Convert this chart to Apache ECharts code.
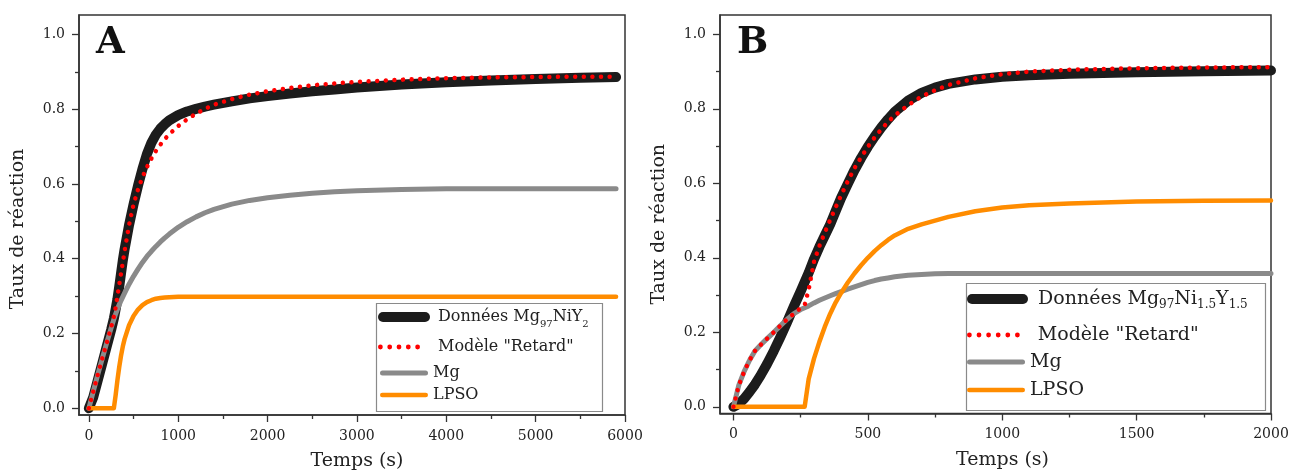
<!DOCTYPE html>
<html><head><meta charset="utf-8">
<script src="https://cdn.jsdelivr.net/npm/echarts@6/dist/echarts.min.js"></script>
<style>html,body{margin:0;padding:0;background:#fff}#c{width:1290px;height:470px}</style>
</head><body><div id="c"></div>
<script>
// ---- Panel A data (Mg97NiY2) ----
const timeA    = [0, 50, 100, 150, 200, 250, 280, 290, 300, 320, 340, 360, 380, 400, 450, 500, 550, 600, 650, 700, 750, 800, 850, 900, 1000, 1100, 1200, 1300, 1400, 1600, 1800, 2000, 2250, 2500, 2750, 3000, 3500, 4000, 4500, 5000, 5500, 5900];
const donneesA = [0, 0.03, 0.075, 0.12, 0.165, 0.21, 0.24, 0.252, 0.265, 0.292, 0.325, 0.36, 0.395, 0.425, 0.49, 0.545, 0.595, 0.64, 0.68, 0.71, 0.732, 0.748, 0.76, 0.77, 0.784, 0.794, 0.801, 0.807, 0.812, 0.821, 0.829, 0.835, 0.842, 0.848, 0.853, 0.858, 0.866, 0.872, 0.877, 0.881, 0.884, 0.886];
const modeleA  = [0, 0.045, 0.09, 0.133, 0.175, 0.217, 0.245, 0.257, 0.27, 0.30, 0.33, 0.36, 0.39, 0.42, 0.49, 0.545, 0.585, 0.618, 0.645, 0.668, 0.688, 0.705, 0.72, 0.733, 0.755, 0.773, 0.788, 0.801, 0.812, 0.827, 0.839, 0.848, 0.857, 0.864, 0.869, 0.873, 0.879, 0.883, 0.885, 0.886, 0.887, 0.887];
const mgA      = [0, 0.045, 0.09, 0.133, 0.175, 0.215, 0.238, 0.245, 0.252, 0.265, 0.277, 0.288, 0.298, 0.308, 0.332, 0.353, 0.372, 0.39, 0.406, 0.42, 0.433, 0.445, 0.456, 0.466, 0.484, 0.499, 0.512, 0.523, 0.532, 0.546, 0.556, 0.563, 0.57, 0.575, 0.579, 0.582, 0.585, 0.587, 0.587, 0.587, 0.587, 0.587];
const lpsoA    = [0, 0, 0, 0, 0, 0, 0, 0, 0.035, 0.075, 0.11, 0.14, 0.165, 0.185, 0.222, 0.247, 0.264, 0.276, 0.284, 0.289, 0.293, 0.295, 0.296, 0.297, 0.298, 0.298, 0.298, 0.298, 0.298, 0.298, 0.298, 0.298, 0.298, 0.298, 0.298, 0.298, 0.298, 0.298, 0.298, 0.298, 0.298, 0.298];

// ---- Panel B data (Mg97Ni1.5Y1.5) ----
const timeB    = [0, 20, 40, 60, 80, 100, 125, 150, 175, 200, 225, 250, 265, 280, 300, 320, 340, 360, 380, 400, 425, 450, 475, 500, 525, 550, 575, 600, 650, 700, 750, 800, 900, 1000, 1100, 1250, 1500, 1750, 2000];
const donneesB = [0, 0.008, 0.022, 0.04, 0.06, 0.083, 0.115, 0.15, 0.188, 0.228, 0.27, 0.31, 0.335, 0.36, 0.397, 0.43, 0.46, 0.49, 0.525, 0.56, 0.598, 0.635, 0.668, 0.698, 0.725, 0.75, 0.772, 0.792, 0.822, 0.843, 0.857, 0.867, 0.879, 0.886, 0.89, 0.894, 0.898, 0.901, 0.903];
const modeleB  = [0, 0.058, 0.095, 0.125, 0.15, 0.165, 0.183, 0.2, 0.218, 0.235, 0.25, 0.265, 0.273, 0.315, 0.39, 0.432, 0.468, 0.502, 0.535, 0.567, 0.605, 0.64, 0.67, 0.698, 0.723, 0.745, 0.765, 0.782, 0.81, 0.833, 0.85, 0.864, 0.882, 0.893, 0.90, 0.905, 0.909, 0.911, 0.912];
const mgB      = [0, 0.058, 0.095, 0.125, 0.15, 0.165, 0.183, 0.2, 0.218, 0.235, 0.25, 0.261, 0.266, 0.271, 0.279, 0.286, 0.292, 0.298, 0.304, 0.309, 0.316, 0.322, 0.328, 0.334, 0.339, 0.343, 0.346, 0.349, 0.353, 0.355, 0.357, 0.358, 0.358, 0.358, 0.358, 0.358, 0.358, 0.358, 0.358];
const lpsoB    = [0, 0, 0, 0, 0, 0, 0, 0, 0, 0, 0, 0, 0, 0.075, 0.13, 0.175, 0.215, 0.25, 0.28, 0.305, 0.333, 0.358, 0.38, 0.40, 0.418, 0.434, 0.448, 0.46, 0.478, 0.49, 0.50, 0.51, 0.525, 0.535, 0.541, 0.546, 0.551, 0.553, 0.554];

// ---- Axis ticks / labels ----
const yMajor = [0, 0.2, 0.4, 0.6, 0.8, 1.0];
const yMinor = [0.1, 0.3, 0.5, 0.7, 0.9];
const xMajorA = [0, 1000, 2000, 3000, 4000, 5000, 6000];
const xMinorA = [500, 1500, 2500, 3500, 4500, 5500];
const xMajorB = [0, 500, 1000, 1500, 2000];
const xMinorB = [250, 750, 1250, 1750];

const FONT = 'DejaVu Serif';
const AX = '#333';
const TXT = '#222';
const zip = (t, v) => t.map((x, i) => [x, v[i]]);

// legend icon shapes
function barIcon(w, h) {
  const r = h / 2;
  return 'path://M' + r + ',0H' + (w - r) + 'A' + r + ',' + r + ',0,0,1,' + (w - r) + ',' + h + 'H' + r + 'A' + r + ',' + r + ',0,0,1,' + r + ',0Z';
}
function dotsIcon(n, s, r) {
  let p = 'path://';
  for (let i = 0; i < n; i++) {
    const cx = r + i * s;
    p += 'M' + (cx - r) + ',' + r + 'A' + r + ',' + r + ',0,1,0,' + (cx + r) + ',' + r + 'A' + r + ',' + r + ',0,1,0,' + (cx - r) + ',' + r + 'Z';
  }
  return p;
}

function xAxes(grid, min, max, major, minor, shift) {
  return [
    { gridIndex: grid, type: 'value', min, max, name: 'Temps (s)', nameLocation: 'middle', nameGap: 37,
      nameTextStyle: { fontFamily: FONT, fontSize: 19, color: TXT, padding: [0, 0, 0, shift] },
      axisLine: { show: true, onZero: false, lineStyle: { color: AX, width: 1.5 } },
      axisTick: { show: true, customValues: major, length: 7, lineStyle: { color: AX, width: 1.3 } },
      axisLabel: { customValues: major, margin: 14, fontFamily: FONT, fontSize: 14, color: TXT, formatter: v => String(Math.round(v)) },
      splitLine: { show: false } },
    { gridIndex: grid, type: 'value', min, max, position: 'bottom',
      axisLine: { show: false, onZero: false }, axisLabel: { show: false }, splitLine: { show: false },
      axisTick: { show: true, customValues: minor, length: 4, lineStyle: { color: AX, width: 1.3 } } }
  ];
}
function yAxes(grid, pad) {
  return [
    { gridIndex: grid, type: 'value', min: -0.018, max: 1.052, name: 'Taux de réaction', nameLocation: 'middle', nameGap: 51,
      nameTextStyle: { fontFamily: FONT, fontSize: 19, color: TXT, padding: [0, pad, 0, 0] },
      axisLine: { show: true, onZero: false, lineStyle: { color: AX, width: 1.5 } },
      axisTick: { show: true, customValues: yMajor, length: 7, lineStyle: { color: AX, width: 1.3 } },
      axisLabel: { customValues: yMajor, margin: 14, fontFamily: FONT, fontSize: 14, color: TXT, formatter: v => v.toFixed(1) },
      splitLine: { show: false } },
    { gridIndex: grid, type: 'value', min: -0.018, max: 1.052, position: 'left',
      axisLine: { show: false, onZero: false }, axisLabel: { show: false }, splitLine: { show: false },
      axisTick: { show: true, customValues: yMinor, length: 4, lineStyle: { color: AX, width: 1.3 } } }
  ];
}

function seriesSet(suffix, xi, yi, t, d, m, g, l) {
  const base = { type: 'line', xAxisIndex: xi, yAxisIndex: yi, symbol: 'none', showSymbol: false, smooth: false, animation: false };
  return [
    Object.assign({}, base, { name: 'Données ' + suffix, data: zip(t, d), z: 2,
      lineStyle: { color: '#1c1c1c', width: 10, cap: 'round', join: 'round' }, itemStyle: { color: '#1c1c1c' } }),
    Object.assign({}, base, { name: 'Mg ' + suffix, data: zip(t, g), z: 3,
      lineStyle: { color: '#8a8a8a', width: 5, cap: 'round', join: 'round' }, itemStyle: { color: '#8a8a8a' } }),
    Object.assign({}, base, { name: 'LPSO ' + suffix, data: zip(t, l), z: 4,
      lineStyle: { color: '#ff8c00', width: 4.5, cap: 'round', join: 'round' }, itemStyle: { color: '#ff8c00' } }),
    Object.assign({}, base, { name: 'Modèle ' + suffix, data: zip(t, m), z: 5,
      lineStyle: { color: '#ff0000', width: 4.5, type: [0.01, 8.6], cap: 'round' }, itemStyle: { color: '#ff0000' } })
  ];
}

const labels = {
  'Données A': 'Données Mg{s|97}NiY{s|2}',
  'Modèle A': 'Modèle "Retard"',
  'Mg A': 'Mg', 'LPSO A': 'LPSO',
  'Données B': 'Données Mg{s|97}Ni{s|1.5}Y{s|1.5}',
  'Modèle B': 'Modèle "Retard"',
  'Mg B': 'Mg', 'LPSO B': 'LPSO'
};
function leg(name, left, cy, icon, w, h, fs, subFs, padL) {
  return { data: [{ name, icon }], left, top: cy - 12, itemWidth: w, itemHeight: h, padding: 0, selectedMode: false, z: 12,
    formatter: n => labels[n],
    textStyle: { fontFamily: FONT, fontSize: fs, color: TXT, padding: [0, 0, 0, padL], lineHeight: 24,
      rich: { s: { fontFamily: FONT, fontSize: subFs, color: TXT, verticalAlign: 'bottom', lineHeight: 14 } } } };
}

const option = {
  backgroundColor: '#fff',
  animation: false,
  grid: [
    { left: 79, top: 15, width: 546, height: 400, show: true, borderColor: AX, borderWidth: 1.5, containLabel: false, outerBoundsMode: 'none' },
    { left: 720, top: 15, width: 551, height: 398.5, show: true, borderColor: AX, borderWidth: 1.5, containLabel: false, outerBoundsMode: 'none' }
  ],
  xAxis: [].concat(xAxes(0, -110, 6000, xMajorA, xMinorA, 10), xAxes(1, -50, 2000, xMajorB, xMinorB, 14)),
  yAxis: [].concat(yAxes(0, 28), yAxes(1, 20)),
  legend: [
    leg('Données A', 378, 317, barIcon(52, 10), 52, 10, 16, 10, 3),
    leg('Modèle A', 378, 347, dotsIcon(5, 9.3, 2.4), 42, 4.8, 16, 10, 13),
    leg('Mg A', 380, 373, barIcon(48, 5), 48, 5, 16, 10, 0),
    leg('LPSO A', 380, 395, barIcon(48, 4.6), 48, 4.6, 16, 10, 0),
    leg('Données B', 967, 299, barIcon(61, 10), 61, 10, 19, 12, 5),
    leg('Modèle B', 967, 335, dotsIcon(6, 9.6, 2.4), 52.8, 4.8, 19, 12, 13),
    leg('Mg B', 967, 362, barIcon(58, 5), 58, 5, 19, 12, 0),
    leg('LPSO B', 967, 390, barIcon(58, 4.6), 58, 4.6, 19, 12, 0)
  ],
  graphic: [
    { type: 'rect', shape: { x: 376.5, y: 303.5, width: 226, height: 108 }, style: { fill: '#fff', stroke: '#8a8a8a', lineWidth: 1.2 }, z: 6 },
    { type: 'rect', shape: { x: 966.5, y: 283.5, width: 299, height: 127 }, style: { fill: '#fff', stroke: '#8a8a8a', lineWidth: 1.2 }, z: 6 },
    { type: 'text', left: 96, top: 25, z: 20, style: { text: 'A', fontFamily: FONT, fontWeight: 'bold', fontSize: 37, fill: '#111' } },
    { type: 'text', left: 737, top: 25, z: 20, style: { text: 'B', fontFamily: FONT, fontWeight: 'bold', fontSize: 37, fill: '#111' } }
  ],
  series: [].concat(
    seriesSet('A', 0, 0, timeA, donneesA, modeleA, mgA, lpsoA),
    seriesSet('B', 2, 2, timeB, donneesB, modeleB, mgB, lpsoB)
  )
};
const chart = echarts.init(document.getElementById('c'), null, { renderer: 'canvas' });
chart.setOption(option);
</script></body></html>
